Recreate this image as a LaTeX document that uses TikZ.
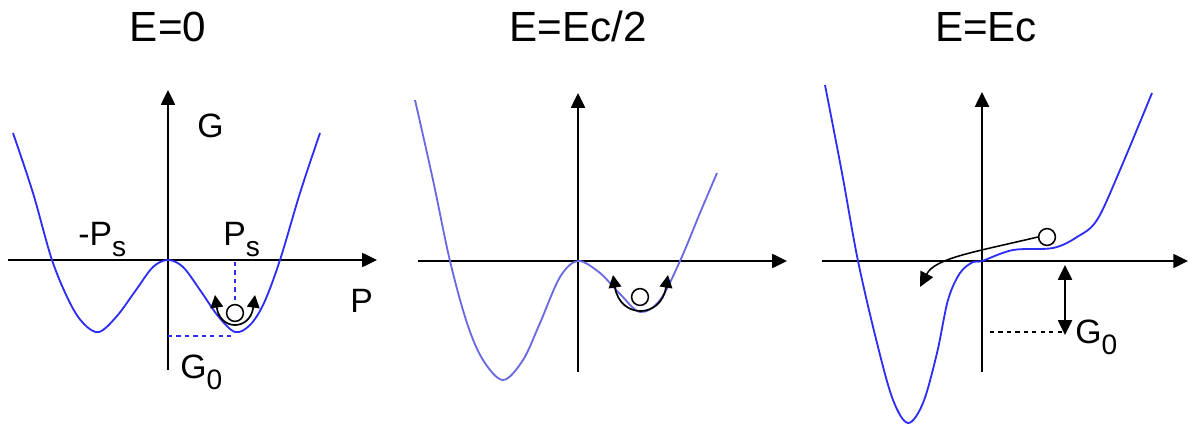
\documentclass[tikz,border=0pt]{standalone}
\usepackage{fontspec}
\setmainfont{Liberation Sans}
\usepackage{tikz}
\usetikzlibrary{arrows.meta, positioning, calc}
\definecolor{wellblue}{RGB}{45, 45, 245}
\definecolor{softblue}{RGB}{105, 105, 225}
\newcommand{\subs}[1]{\raisebox{-8pt}{\fontsize{20}{22}\selectfont #1}}

\begin{document}
\begin{tikzpicture}[x=0.025cm, y=-0.025cm, >={Triangle[length=10.5pt, width=10pt]},
  axis/.style={line width=1.1pt, ->},
  well/.style={line width=1.3pt, wellblue},
  title/.style={font=\fontsize{30}{34}\selectfont, anchor=base},
  lbl/.style={font=\fontsize{24}{28}\selectfont, anchor=base west, inner sep=0pt},
  ball/.style={circle, draw, fill=white, line width=1.1pt, minimum size=0.42cm, inner sep=0pt},
  kick/.style={line width=1.2pt, {Triangle[length=9pt, width=9pt]}-{Triangle[length=9pt, width=9pt]}}]
  \useasboundingbox (0,0) rectangle (1190,427);

  % Titles
  \node[title] (tzero) at (168,42) {E=0};
  \node[title] (thalf) at (578,42) {E=Ec/2};
  \node[title] (tfull) at (986,42) {E=Ec};

  % ---- E=0: symmetric double well
  \draw[axis] (8,260) -- (377,260);
  \draw[axis] (168,370) -- (168,90);
  \draw[well] plot[smooth, tension=0.55] coordinates {
    (13,133) (33,193) (52,260) (70,303) (84,324) (99,332) (117,316) (136,290)
    (153,267) (168,260) (183,267) (200,290) (218,316) (235,332) (250,325)
    (264,303) (280,260) (300,193) (320,133)};
  \draw[wellblue, dashed, line width=1pt] (235,262) -- (235,300);
  \draw[wellblue, dashed, line width=1pt] (168,336) -- (235,336);
  \draw[kick] (215,295) .. controls (220,331) and (250,331) .. (255,295);
  \node[ball] (ballA) at (235,313) {};
  \node[lbl] (gA) at (197,138) {G};
  \node[lbl] (mps) at (78,245) {-P\subs{s}};
  \node[lbl] (ps) at (223,245) {P\subs{s}};
  \node[lbl] (pA) at (350,312) {P};
  \node[lbl] (gzA) at (180,378) {G\subs{0}};

  % ---- E=Ec/2: tilted well
  \draw[axis] (418,261) -- (787,261);
  \draw[axis] (578,372) -- (578,93);
  \draw[well, softblue] plot[smooth, tension=0.55] coordinates {
    (415,100) (433,180) (450,261) (467,323) (483,360) (503,380) (523,360)
    (540,323) (560,277) (578,261) (600,273) (620,294) (640,312) (660,300)
    (680,261) (700,213) (717,173)};
  \draw[kick] (613,275) .. controls (620,319) and (661,319) .. (668,275);
  \node[ball] (ballB) at (640,297) {};

  % ---- E=Ec: barrier gone
  \draw[axis] (822,261) -- (1188,261);
  \draw[axis] (982,372) -- (982,92);
  \draw[well] plot[smooth, tension=0.55] coordinates {
    (825,85) (842,173) (858,261) (877,343) (893,400) (908,423) (923,403)
    (937,353) (948,300) (960,273) (973,262) (982,261) (1013,250) (1053,248)
    (1077,237) (1097,220) (1120,170) (1152,93)};
  \node[ball] (ballC) at (1047,237) {};
  \draw[line width=1.1pt, ->] (ballC.west) .. controls (975,252) and (935,258) .. (920,287);
  \draw[line width=1.1pt, <->] (1065,265) -- (1065,335);
  \draw[dashed, line width=0.9pt] (990,332) -- (1062,332);
  \node[lbl] (gzC) at (1075,343) {G\subs{0}};
\end{tikzpicture}
\end{document}
